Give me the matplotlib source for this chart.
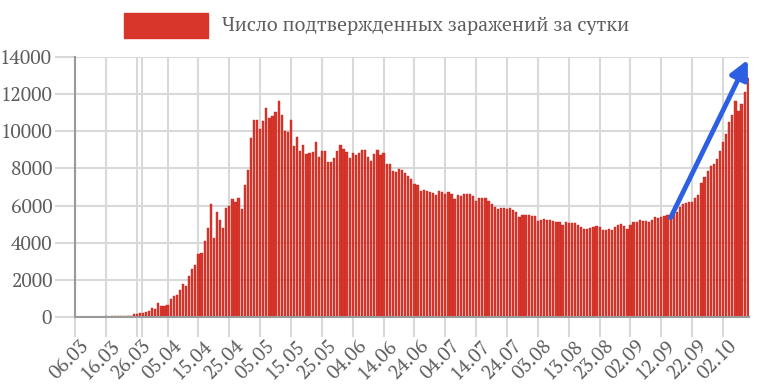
import numpy as np
import matplotlib
matplotlib.use('Agg')
import matplotlib.pyplot as plt
import matplotlib.transforms as mtransforms
from matplotlib.font_manager import FontProperties
from matplotlib.patches import Rectangle

# Daily confirmed cases, 06.03 - 10.10
march = [0, 6, 7, 0, 3, 8, 6, 11, 14, 4, 30, 21, 33, 52, 54, 53, 61, 71, 57,
         163, 182, 196, 228, 270, 302, 501]
april = [440, 771, 601, 582, 658, 954, 1154, 1175, 1459, 1786, 1667, 2186, 2558,
         2774, 3388, 3448, 4070, 4785, 6060, 4268, 5642, 5236, 4774, 5849, 5966,
         6361, 6198, 6411, 5841, 7099]
may = [7933, 9623, 10633, 10581, 10102, 10559, 11231, 10699, 10817, 11012, 11656,
       10899, 10028, 9974, 10598, 9200, 9709, 8926, 9263, 8764, 8849, 8894, 9434,
       8599, 8946, 8915, 8338, 8371, 8572, 8952, 9268]
june = [9035, 8863, 8536, 8831, 8726, 8855, 8984, 8985, 8595, 8404, 8779, 8987,
        8706, 8835, 8246, 8248, 7843, 7790, 7972, 7889, 7728, 7600, 7425, 7176,
        7113, 6800, 6852, 6791, 6719, 6693]
july = [6556, 6760, 6718, 6632, 6736, 6611, 6368, 6562, 6509, 6635, 6611, 6615,
        6537, 6248, 6422, 6428, 6406, 6234, 6109, 5940, 5842, 5862, 5848, 5811,
        5871, 5765, 5635, 5395, 5475, 5509, 5482]
august = [5462, 5427, 5159, 5204, 5267, 5241, 5212, 5189, 5118, 5102, 4945, 5102,
          5057, 5065, 5061, 4969, 4839, 4718, 4748, 4767, 4870, 4921, 4852, 4676,
          4696, 4729, 4711, 4829, 4980, 4993, 4897]
september = [4729, 4952, 5110, 5100, 5205, 5195, 5185, 5099, 5218, 5363, 5310,
             5406, 5449, 5509, 5488, 5529, 5670, 5905, 6065, 6148, 6196, 6215,
             6431, 6595, 7212, 7523, 7867, 8135, 8232, 8481]
october = [8945, 9412, 9859, 10499, 10888, 11615, 11115, 11493, 12126, 12846]

cases = march + april + may + june + july + august + september + october
days = np.arange(len(cases))

tick_labels = ['06.03', '16.03', '26.03', '05.04', '15.04', '25.04', '05.05',
               '15.05', '25.05', '04.06', '14.06', '24.06', '04.07', '14.07',
               '24.07', '03.08', '13.08', '23.08', '02.09', '12.09', '22.09',
               '02.10']
tick_days = np.arange(len(tick_labels)) * 10

legend_label = 'Число подтвержденных заражений за сутки'

# arrow from mid-September to the end (day index, cases)
arrow_start = (193, 5350)
arrow_end = (218, 13850)

bar_color = '#d8362b'
grid_color = '#d9d9d9'
text_color = '#5e5e5e'

serif_path = '/usr/share/fonts/truetype/google-fonts/PT_Serif-Web-Regular.ttf'
tick_font = FontProperties(fname=serif_path, size=14)
legend_font = FontProperties(fname=serif_path, size=14.2)

fig = plt.figure(figsize=(7.61, 3.88), dpi=100)
ax = fig.add_axes([75 / 761, 1 - 317 / 388, 674 / 761, 260 / 388])

ax.bar(days, cases, width=0.72, color=bar_color, edgecolor='#c0281f',
       linewidth=0.3, zorder=2)

ax.set_xlim(0, 218.4)
ax.set_ylim(0, 14000)
yt = list(range(0, 14001, 2000))
ax.set_yticks(yt)
ax.set_yticklabels([str(v) for v in yt], fontproperties=tick_font)
ax.set_xticks(tick_days)
ax.set_xticklabels(tick_labels, rotation=45, ha='right', va='top',
                   rotation_mode='anchor', fontproperties=tick_font)
ax.set_xticks([21.7], minor=True)

ax.grid(True, which='both', color=grid_color, linewidth=1.5, zorder=0)
# ticks are 20 px long (14.4 pt at 100 dpi)
ax.tick_params(axis='both', which='both', length=14.4, width=1.5, color=grid_color,
               labelcolor=text_color)
ax.tick_params(axis='x', pad=-2)
ax.tick_params(axis='y', pad=2)

# nudge the rotated date labels a little right and down
shift = mtransforms.ScaledTranslation(5 / 100, -3 / 100, fig.dpi_scale_trans)
for lbl in ax.get_xticklabels():
    lbl.set_transform(lbl.get_transform() + shift)

for side in ['top', 'right']:
    ax.spines[side].set_visible(False)
for side in ['left', 'bottom']:
    ax.spines[side].set_color('#9a9a9a')
    ax.spines[side].set_linewidth(1.5)
    ax.spines[side].set_zorder(3)

ax.annotate('', xy=arrow_end, xytext=arrow_start,
            arrowprops=dict(arrowstyle='-|>', color='#2d5fe3', lw=3.5,
                            mutation_scale=28, shrinkA=0, shrinkB=0),
            zorder=4, annotation_clip=False)

# legend at the top
fig.add_artist(Rectangle((124 / 761, 1 - 38 / 388), 84 / 761, 25 / 388,
                         transform=fig.transFigure, color=bar_color))
fig.text(222 / 761, 1 - 25.5 / 388, legend_label, ha='left', va='center',
         fontproperties=legend_font, color=text_color)

fig.savefig('out.png', dpi=100)
